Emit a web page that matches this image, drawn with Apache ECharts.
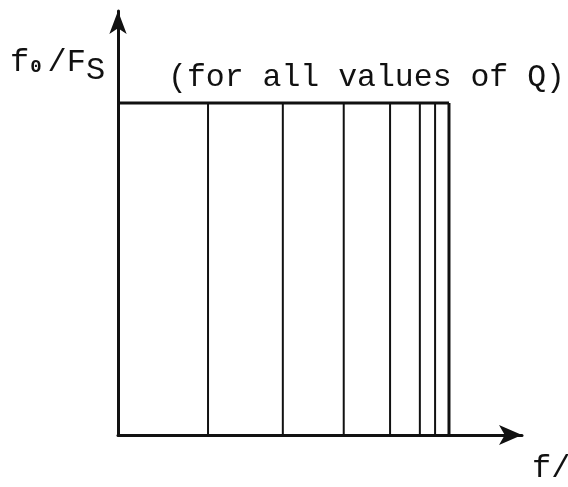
<!DOCTYPE html>
<html>
<head>
<meta charset="utf-8">
<style>
  html, body { margin: 0; padding: 0; background: #ffffff; }
  #chart { width: 568px; height: 487px; }
</style>
<script src="https://cdn.jsdelivr.net/npm/echarts@6/dist/echarts.min.js"></script>
</head>
<body>
<div id="chart"></div>
<script>
// Normalised frequencies (f/Fs) of the vertical markers; the last one closes the box at Nyquist.
const markerFreqs = [0.136, 0.249, 0.341, 0.411, 0.456, 0.479, 0.500];
// Constant f0/Fs level, the same for every Q.
const levelValue = 1;
const levelSpan = [0, 0.5];
// Axis extents (the axes run past the box to their arrowheads).
const xMax = 0.6103;
const yMax = 1.2771;
// Text
const noteText = '(for all values of Q)';
const xName = 'f/';

const ink = '#111111';
const mono = "'Liberation Mono', 'DejaVu Sans Mono', monospace";

const chart = echarts.init(document.getElementById('chart'), null, { renderer: 'canvas' });

const series = [];
// horizontal f0/Fs level
series.push({
  type: 'line',
  data: levelSpan.map(function (x) { return [x, levelValue]; }),
  symbol: 'none',
  silent: true,
  lineStyle: { color: ink, width: 3 },
  z: 3
});
// vertical markers from the f axis up to the level
markerFreqs.forEach(function (f, i) {
  series.push({
    type: 'line',
    data: [[f, 0], [f, levelValue]],
    symbol: 'none',
    silent: true,
    lineStyle: { color: ink, width: i === markerFreqs.length - 1 ? 3 : 2 },
    z: 2
  });
});

const axisLine = function (size) {
  return {
    show: true,
    symbol: ['none', 'arrow'],
    symbolSize: size,
    lineStyle: { color: ink, width: 3 }
  };
};

chart.setOption({
  animation: false,
  backgroundColor: '#ffffff',
  grid: { left: 118, right: 46, top: 11, bottom: 52 },
  xAxis: {
    type: 'value', min: 0, max: xMax,
    axisLine: axisLine([15, 23]),
    axisTick: { show: false }, axisLabel: { show: false }, splitLine: { show: false }
  },
  yAxis: {
    type: 'value', min: 0, max: yMax,
    axisLine: axisLine([13, 23]),
    axisTick: { show: false }, axisLabel: { show: false }, splitLine: { show: false }
  },
  series: series,
  graphic: [
    {
      type: 'text', x: 10, y: 46.4, silent: true,
      style: {
        text: '{m|f}{s|0}{m|/F}{S|S}',
        verticalAlign: 'top',
        fill: ink,
        rich: {
          m: { fontFamily: mono, fontSize: 32, verticalAlign: 'top' },
          s: { fontFamily: mono, fontSize: 19, fontWeight: 'bold', verticalAlign: 'top', padding: [11, 6, 0, 1] },
          S: { fontFamily: mono, fontSize: 32, verticalAlign: 'top', padding: [8, 0, 0, 0] }
        }
      }
    },
    {
      type: 'text', x: 168, y: 61.6, silent: true,
      style: { text: noteText, font: '31.5px ' + mono, fill: ink, verticalAlign: 'top' }
    },
    {
      type: 'text', x: 532, y: 452.4, silent: true,
      style: { text: xName, font: '32px ' + mono, fill: ink, verticalAlign: 'top' }
    }
  ]
});
</script>
</body>
</html>
